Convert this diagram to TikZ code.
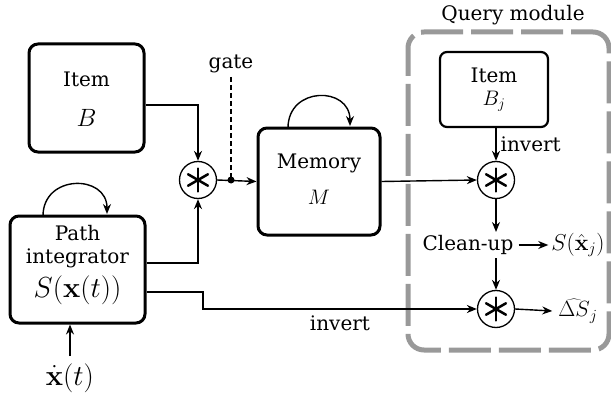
\RequirePackage{fix-cm}
\documentclass[tikz,border=0pt]{standalone}
\usepackage[no-math]{fontspec}
\setmainfont{DejaVu Serif}
\usetikzlibrary{arrows.meta,calc}
\begin{document}
\begin{tikzpicture}[x=1pt,y=-1pt,
  txt/.style={font=\fontsize{20}{24}\selectfont, inner sep=0pt},
  hugemath/.style={font=\fontsize{29}{32}\selectfont, inner sep=0pt},
  bigmath/.style={font=\fontsize{25}{28}\selectfont, inner sep=0pt},
  midmath/.style={font=\fontsize{21}{24}\selectfont, inner sep=0pt},
  bbox/.style={draw, line width=3pt, rounded corners=9pt, inner sep=0pt},
  sbox/.style={draw, line width=2.2pt, rounded corners=7pt, inner sep=0pt},
  conv/.style={draw, circle, line width=1.3pt, minimum size=37pt, inner sep=0pt},
  conn/.style={line width=1.4pt, -{Stealth[length=10pt,width=8pt]}},
  line/.style={line width=1.4pt},
  qframe/.style={draw=black!40, line width=5pt, rounded corners=16pt, dash pattern=on 42pt off 8pt, dash phase=20pt}
]
\useasboundingbox (0,0) rectangle (611,396);

% Query module frame
\node[qframe, minimum width=201pt, minimum height=318pt] (query) at (508.5,191) {};
\node[txt] (qlabel) at (513,15) {Query module};

% boxes
\node[bbox, minimum width=115pt, minimum height=108pt] (itemB) at (86.5,98) {};
\node[txt] (itemBt) at (86.5,79) {Item};
\node[bigmath] (itemBm) at (86.5,118) {$B$};

\node[bbox, minimum width=135pt, minimum height=107pt] (pi) at (77.5,269.5) {};
\node[txt] (pit1) at (77.5,233) {Path};
\node[txt] (pit2) at (77.5,258) {integrator};
\node[hugemath] (pim) at (77.5,290) {$S(\mathbf{x}(t))$};

\node[bbox, minimum width=122pt, minimum height=107pt] (mem) at (319,181.5) {};
\node[txt] (memt) at (319,163) {Memory};
\node[midmath] (memm) at (319,197) {$M$};

\node[sbox, minimum width=108pt, minimum height=75pt] (itemBj) at (494,89.5) {};
\node[txt] (itemBjt) at (494,75) {Item};
\node[midmath] (itemBjm) at (494,101) {$B_j$};

% convolution circles
\newcommand{\astk}[1]{%
  \foreach \a in {90,30,-30}{\draw[line width=2.5pt, line cap=round] ($(#1)+(\a:11.5pt)$) -- ($(#1)+(\a+180:11.5pt)$);}}
\node[conv] (c1) at (198,180) {};
\node[conv] (c2) at (496,180) {};
\node[conv] (c3) at (496,309) {};
\astk{c1}\astk{c2}\astk{c3}

% other labels
\node[txt] (gate) at (231,64) {gate};
\node[txt] (clean) at (468,245) {Clean-up};
\node[midmath, font=\fontsize{23}{26}\selectfont] (sx) at (578,245) {$S(\hat{\mathbf{x}}_j)$};
\node[midmath, font=\fontsize{22}{25}\selectfont] (ds) at (578,311) {$\widehat{\Delta S}_j$};
\node[hugemath] (xdot) at (70,378) {$\dot{\mathbf{x}}(t)$};
\coordinate (dot) at (231,180);
\coordinate (gtop) at (231,77);
\coordinate (xbase) at (70,356);

% connectors
\draw[conn] (itemB.east |- 0,105) -| (c1.north);
\draw[conn] (pi.east |- 0,263) -| (c1.south);
\draw[conn] (c1.east) -- (mem.west);
\fill (dot) circle (3.5pt);
\draw[line, dash pattern=on 5pt off 3pt] (gtop) -- (dot);
\draw[conn] (mem.east) -- (c2.west);
\draw[conn] (pi.east |- 0,292) -- (203,292) -- (203,309) -- node[txt, below=6pt] (inv2) {invert} (c3.west);
\draw[conn] (itemBj.south -| c2.north) -- node[txt, right=4pt] (inv1) {invert} (c2.north);
\draw[conn] (c2.south) -- (c2.south |- 0,232);
\draw[conn] (clean.east) ++(5,0) -- ($(sx.west)+(-3,0)$);
\draw[conn] (496,258) -- (c3.north);
\draw[conn] (c3.east) -- ($(ds.west)+(-6,0)$);
\draw[conn] (xbase) -- (pi.south -| xbase);

% self loops
\draw[conn] (43,216) .. controls (43,174) and (107,174) .. (107,214);
\draw[conn] (288,128) .. controls (288,86) and (350,86) .. (350,126);
\end{tikzpicture}
\end{document}
